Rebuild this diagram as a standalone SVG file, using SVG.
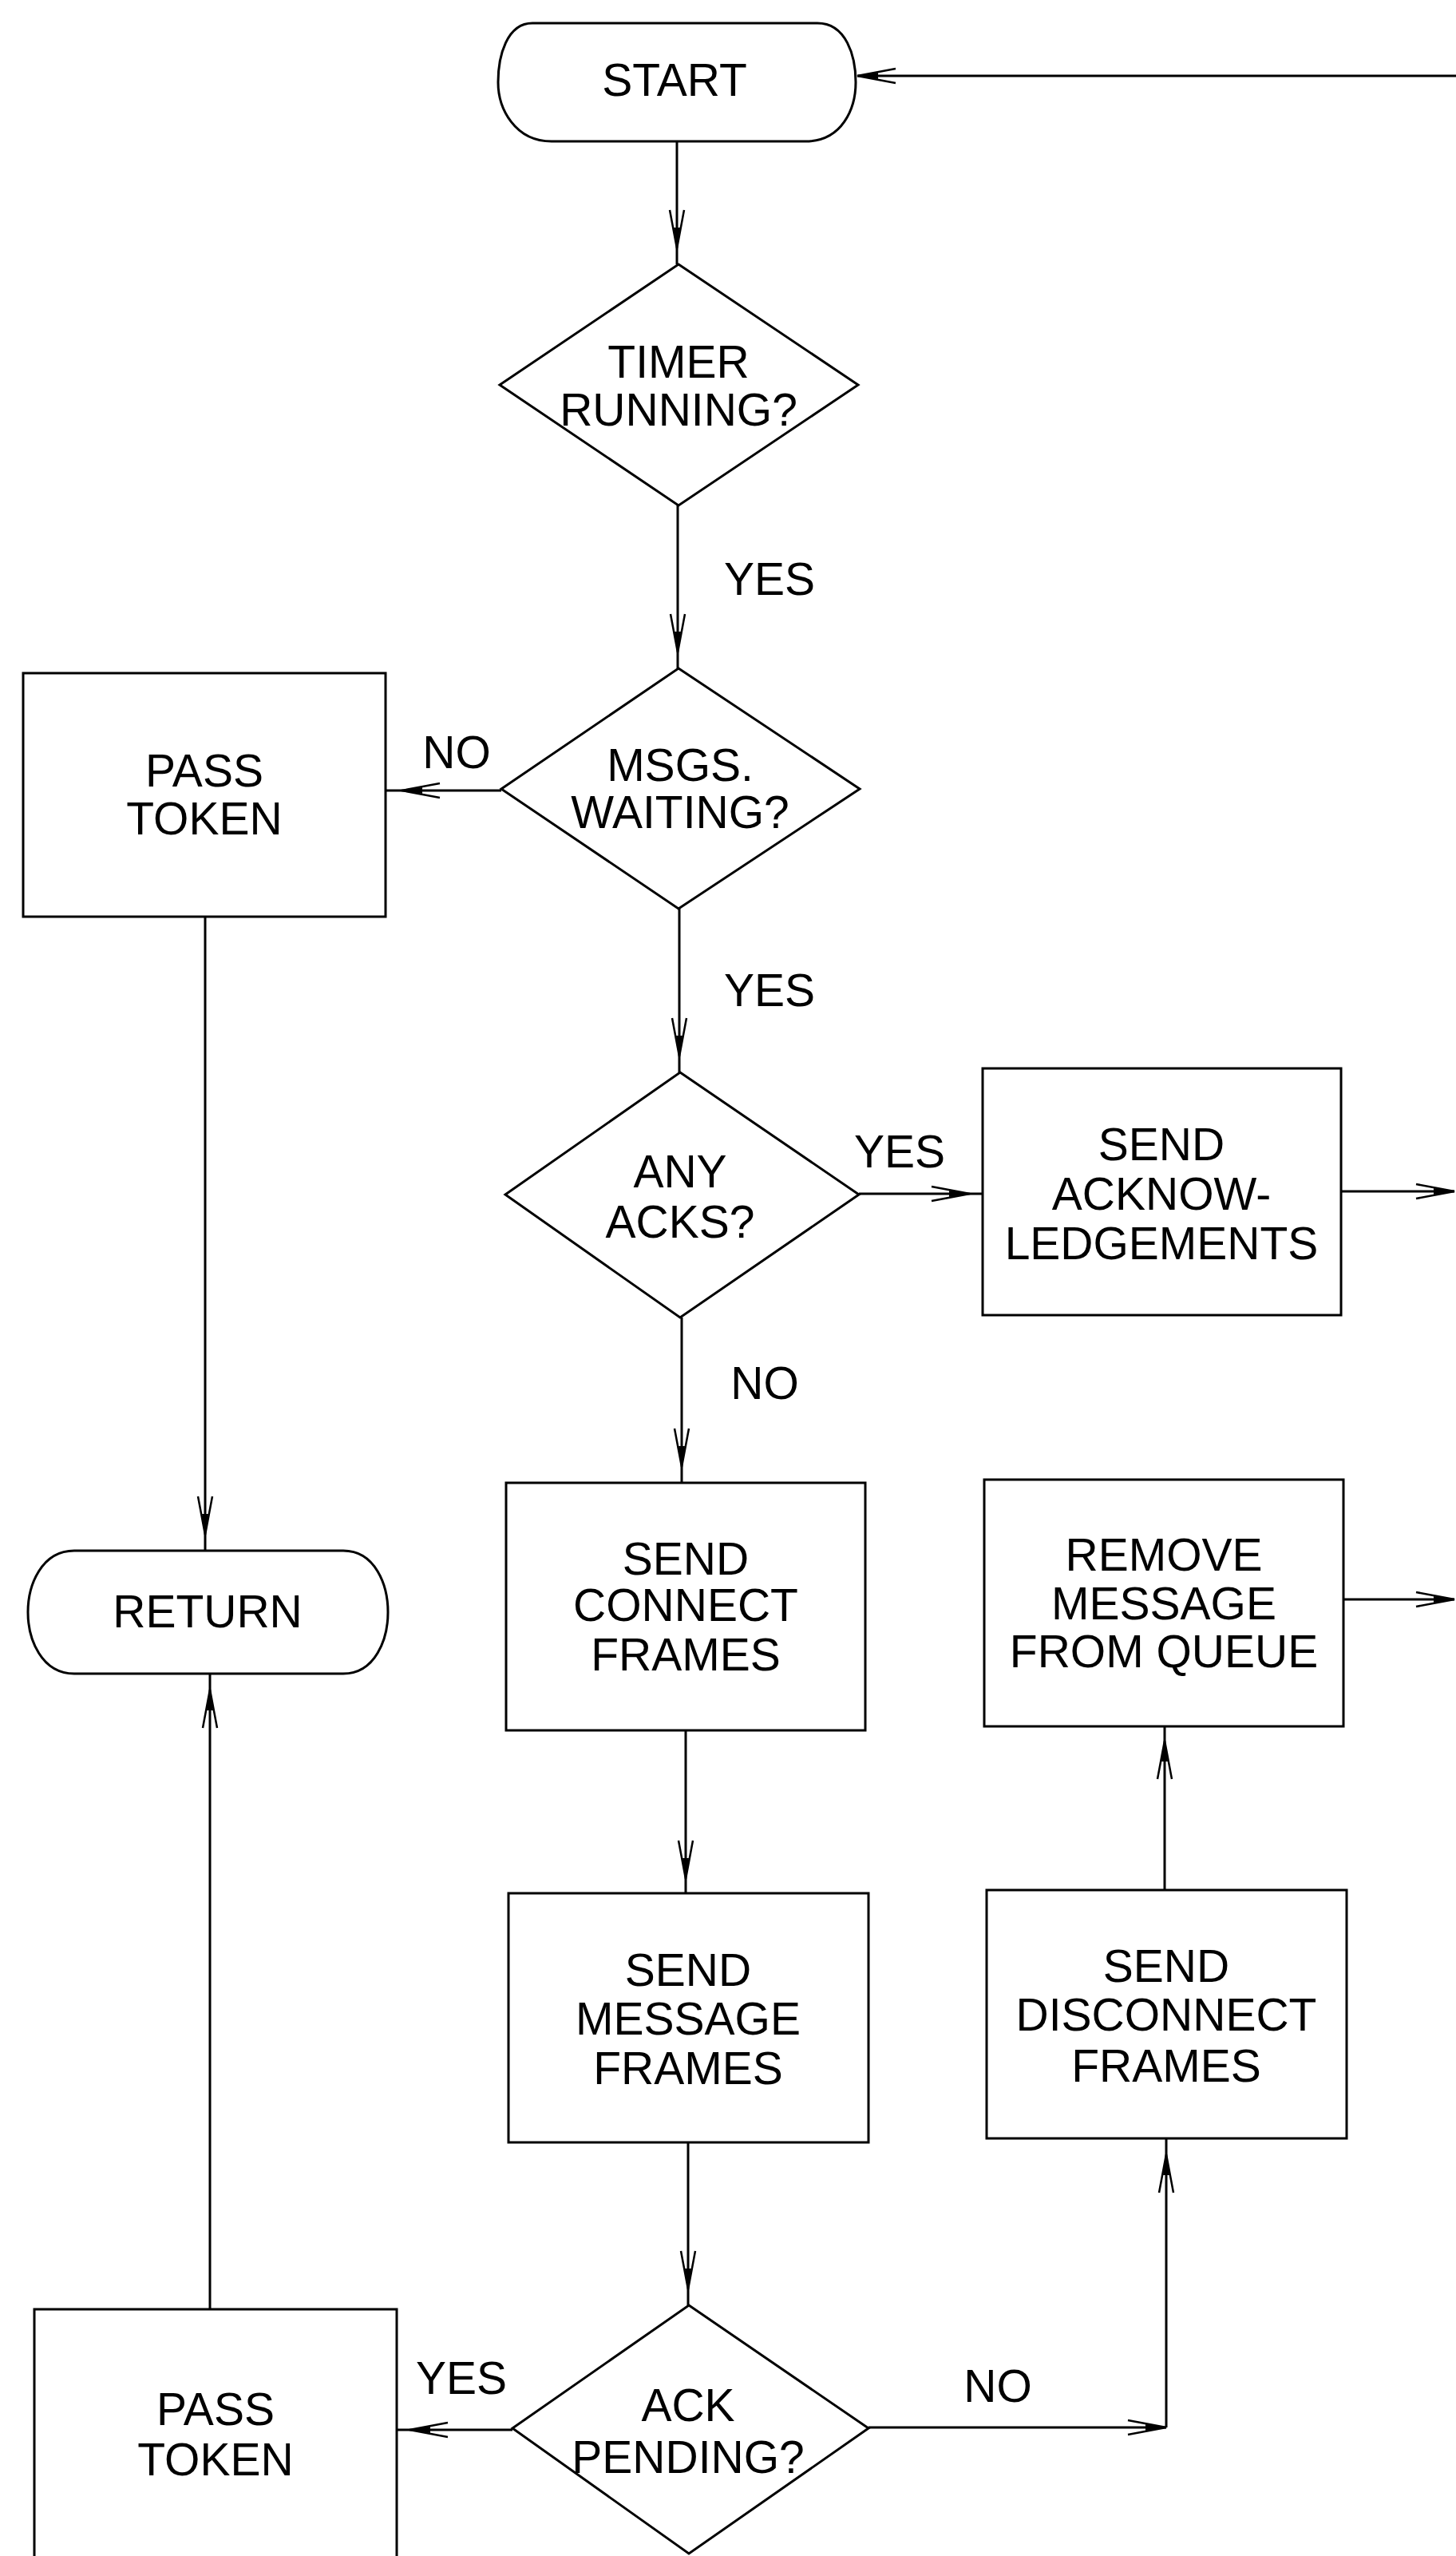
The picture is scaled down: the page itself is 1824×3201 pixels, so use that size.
<svg xmlns="http://www.w3.org/2000/svg" width="1824" height="3201" viewBox="0 0 1824 3201">
<defs>
<style>
.shape{fill:#fff;stroke:#000;stroke-width:3}
.conn{fill:none;stroke:#000;stroke-width:3}
.t{font-family:"Liberation Sans",Arial,sans-serif;font-size:57px;fill:#000;text-anchor:middle}
</style>
<marker id="arr" markerUnits="userSpaceOnUse" viewBox="0 0 52 24" markerWidth="52" markerHeight="24" refX="50" refY="12" orient="auto">
<path d="M2,3 L50,12 L2,21" fill="none" stroke="#000" stroke-width="2.5"/>
<path d="M24,8 L50,12 L24,16 Z" fill="#000"/>
</marker>
</defs>
<rect width="1824" height="3201" fill="#fff"/>
<g id="connectors">
<path class="conn" d="M1824,95 L1074,95" marker-end="url(#arr)"/>
<path class="conn" d="M848,176 L848,311 L848,331" marker-mid="url(#arr)"/>
<path class="conn" d="M849,633 L849,817 L849,837" marker-mid="url(#arr)"/>
<path class="conn" d="M628,990 L503,990 L483,990" marker-mid="url(#arr)"/>
<path class="conn" d="M851,1138 L851,1323 L851,1343" marker-mid="url(#arr)"/>
<path class="conn" d="M1076,1495 L1215,1495 L1231,1495" marker-mid="url(#arr)"/>
<path class="conn" d="M1680,1492 L1822,1492" marker-end="url(#arr)"/>
<path class="conn" d="M854,1650 L854,1837 L854,1857" marker-mid="url(#arr)"/>
<path class="conn" d="M257,1148 L257,1922 L257,1942" marker-mid="url(#arr)"/>
<path class="conn" d="M859,2167 L859,2353 L859,2371" marker-mid="url(#arr)"/>
<path class="conn" d="M1683,2003 L1822,2003" marker-end="url(#arr)"/>
<path class="conn" d="M1459,2367 L1459,2180 L1459,2162" marker-mid="url(#arr)"/>
<path class="conn" d="M862,2683 L862,2867 L862,2887" marker-mid="url(#arr)"/>
<path class="conn" d="M642,3043 L513,3043 L497,3043" marker-mid="url(#arr)"/>
<path class="conn" d="M1088,3040 L1461,3040" marker-end="url(#arr)"/>
<path class="conn" d="M1461,3040 L1461,2698 L1461,2678" marker-mid="url(#arr)"/>
<path class="conn" d="M263,2892 L263,2116 L263,2096" marker-mid="url(#arr)"/>
</g>
<g id="labels">
<text class="t" x="964" y="745">YES</text>
<text class="t" x="572" y="962">NO</text>
<text class="t" x="964" y="1260">YES</text>
<text class="t" x="1127" y="1462">YES</text>
<text class="t" x="958" y="1752">NO</text>
<text class="t" x="578" y="2998">YES</text>
<text class="t" x="1250" y="3008">NO</text>
</g>
<g id="start">
<path class="shape" d="M667,29 H1024 C1060,29 1072,70 1072,103 C1072,136 1055,177 1009,177 H691 C645,177 624,136 624,103 C624,70 635,29 667,29 Z"/>
<text class="t" x="845" y="120">START</text>
</g>
<g id="timer-running">
<polygon class="shape" points="850,331 1075,482 850,633 626,482"/>
<text class="t" x="850" y="473">TIMER</text>
<text class="t" x="850" y="533">RUNNING?</text>
</g>
<g id="msgs-waiting">
<polygon class="shape" points="850,837 1077,988 850,1138 628,988"/>
<text class="t" x="852" y="978">MSGS.</text>
<text class="t" x="852" y="1037">WAITING?</text>
</g>
<g id="pass-token-1">
<rect class="shape" x="29" y="843" width="454" height="305"/>
<text class="t" x="256" y="985">PASS</text>
<text class="t" x="256" y="1045">TOKEN</text>
</g>
<g id="any-acks">
<polygon class="shape" points="852,1343 1076,1496 852,1650 633,1496"/>
<text class="t" x="852" y="1487">ANY</text>
<text class="t" x="852" y="1550">ACKS?</text>
</g>
<g id="send-acks">
<rect class="shape" x="1231" y="1338" width="449" height="309"/>
<text class="t" x="1455" y="1453">SEND</text>
<text class="t" x="1455" y="1515">ACKNOW-</text>
<text class="t" x="1455" y="1577">LEDGEMENTS</text>
</g>
<g id="return">
<path class="shape" d="M93,1942 H430 C470,1942 486,1985 486,2019 C486,2053 470,2096 430,2096 H93 C52,2096 35,2053 35,2019 C35,1985 52,1942 93,1942 Z"/>
<text class="t" x="260" y="2038">RETURN</text>
</g>
<g id="send-connect">
<rect class="shape" x="634" y="1857" width="450" height="310"/>
<text class="t" x="859" y="1972">SEND</text>
<text class="t" x="859" y="2030">CONNECT</text>
<text class="t" x="859" y="2092">FRAMES</text>
</g>
<g id="remove-message">
<rect class="shape" x="1233" y="1853" width="450" height="309"/>
<text class="t" x="1458" y="1967">REMOVE</text>
<text class="t" x="1458" y="2028">MESSAGE</text>
<text class="t" x="1458" y="2088">FROM QUEUE</text>
</g>
<g id="send-message">
<rect class="shape" x="637" y="2371" width="451" height="312"/>
<text class="t" x="862" y="2487">SEND</text>
<text class="t" x="862" y="2548">MESSAGE</text>
<text class="t" x="862" y="2610">FRAMES</text>
</g>
<g id="send-disconnect">
<rect class="shape" x="1236" y="2367" width="451" height="311"/>
<text class="t" x="1461" y="2482">SEND</text>
<text class="t" x="1461" y="2543">DISCONNECT</text>
<text class="t" x="1461" y="2607">FRAMES</text>
</g>
<g id="ack-pending">
<polygon class="shape" points="863,2887 1088,3041 863,3198 642,3041"/>
<text class="t" x="862" y="3032">ACK</text>
<text class="t" x="862" y="3097">PENDING?</text>
</g>
<g id="pass-token-2">
<rect class="shape" x="43" y="2892" width="454" height="330"/>
<text class="t" x="270" y="3037">PASS</text>
<text class="t" x="270" y="3100">TOKEN</text>
</g>
</svg>
